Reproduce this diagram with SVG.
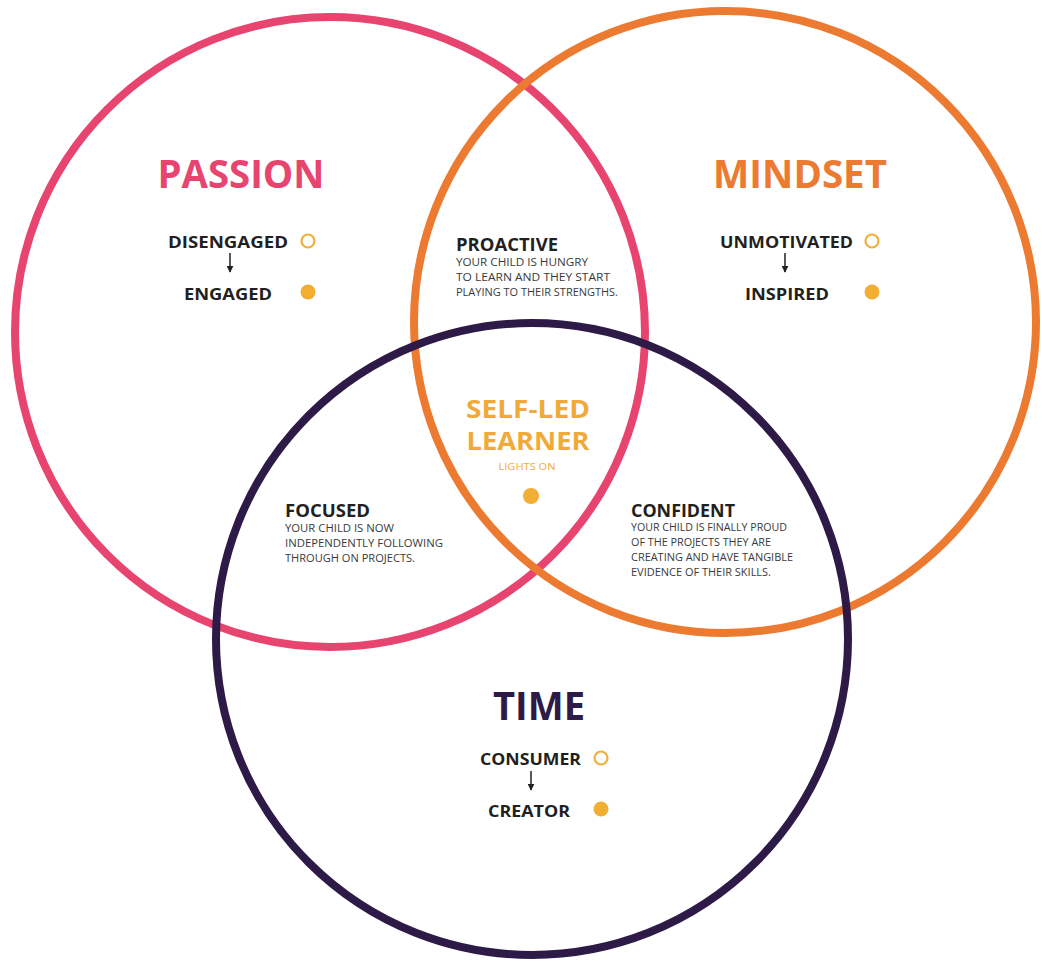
<svg xmlns="http://www.w3.org/2000/svg" width="1042" height="961" viewBox="0 0 1042 961">
<style>
.ring{fill:none;stroke-width:8}
.h{font-family:"Open Sans","DejaVu Sans",sans-serif;font-weight:700}
.lbl{font-family:"Open Sans","DejaVu Sans",sans-serif;font-weight:700;font-size:16px;fill:#231f20}
.sub{font-family:"Open Sans","DejaVu Sans",sans-serif;font-weight:700;font-size:17px;fill:#231f20}
.body{font-family:"Open Sans","DejaVu Sans",sans-serif;font-size:10px;fill:#3a3a3a}
.ho{fill:none;stroke:#F0B03C;stroke-width:2.2}
.fd{fill:#F2AE33}
.arr{stroke:#231f20;stroke-width:1.5;fill:none}
</style>
<defs>
<marker id="ah" viewBox="0 0 10 10" refX="9" refY="5" markerWidth="7" markerHeight="7" orient="auto" markerUnits="userSpaceOnUse">
<path d="M0,0 L10,5 L0,10 Z" fill="#231f20"/>
</marker>
</defs>
<rect width="1042" height="961" fill="#ffffff"/>
<g id="circles">
<circle id="passion-circle" class="ring" cx="330" cy="332" r="315" stroke="#E7446F"/>
<circle id="mindset-circle" class="ring" cx="725" cy="322" r="311" stroke="#EC7A31"/>
<circle id="time-circle" class="ring" cx="532" cy="639" r="316" stroke="#2E1A47"/>
</g>
<g id="passion">
<text class="h" x="241" y="188" font-size="39" fill="#E7446F" text-anchor="middle" textLength="167" lengthAdjust="spacingAndGlyphs">PASSION</text>
<text class="lbl" x="168" y="248" textLength="120" lengthAdjust="spacingAndGlyphs">DISENGAGED</text>
<circle class="ho" cx="308" cy="241" r="6.5"/>
<text class="lbl" x="184" y="300" textLength="88" lengthAdjust="spacingAndGlyphs">ENGAGED</text>
<circle class="fd" cx="308" cy="292" r="7.5"/>
</g>
<g id="mindset">
<text class="h" x="800" y="188" font-size="39" fill="#EC7A31" text-anchor="middle" textLength="174" lengthAdjust="spacingAndGlyphs">MINDSET</text>
<text class="lbl" x="720" y="248" textLength="133" lengthAdjust="spacingAndGlyphs">UNMOTIVATED</text>
<circle class="ho" cx="872" cy="241" r="6.5"/>
<text class="lbl" x="745" y="300" textLength="84" lengthAdjust="spacingAndGlyphs">INSPIRED</text>
<circle class="fd" cx="872" cy="292" r="7.5"/>
</g>
<g id="proactive">
<text class="sub" x="456" y="251" textLength="102" lengthAdjust="spacingAndGlyphs">PROACTIVE</text>
<text class="body" x="456" y="266" textLength="132" lengthAdjust="spacingAndGlyphs">YOUR CHILD IS HUNGRY</text>
<text class="body" x="456" y="281" textLength="154" lengthAdjust="spacingAndGlyphs">TO LEARN AND THEY START</text>
<text class="body" x="456" y="296" textLength="162" lengthAdjust="spacingAndGlyphs">PLAYING TO THEIR STRENGTHS.</text>
</g>
<g id="self-led-learner">
<text class="h" x="528" y="418" font-size="25" fill="#F0AA3A" text-anchor="middle" textLength="124" lengthAdjust="spacingAndGlyphs">SELF-LED</text>
<text class="h" x="528" y="450" font-size="25" fill="#F0AA3A" text-anchor="middle" textLength="123" lengthAdjust="spacingAndGlyphs">LEARNER</text>
<text class="body" x="527" y="470" text-anchor="middle" textLength="57" lengthAdjust="spacingAndGlyphs" style="fill:#F0AA3A;font-size:9px">LIGHTS ON</text>
<circle class="fd" cx="531" cy="496" r="8"/>
</g>
<g id="focused">
<text class="sub" x="285" y="517" textLength="85" lengthAdjust="spacingAndGlyphs">FOCUSED</text>
<text class="body" x="285" y="532" textLength="109" lengthAdjust="spacingAndGlyphs">YOUR CHILD IS NOW</text>
<text class="body" x="285" y="547" textLength="158" lengthAdjust="spacingAndGlyphs">INDEPENDENTLY  FOLLOWING</text>
<text class="body" x="285" y="562" textLength="130" lengthAdjust="spacingAndGlyphs">THROUGH ON PROJECTS.</text>
</g>
<g id="confident">
<text class="sub" x="631" y="517" textLength="104" lengthAdjust="spacingAndGlyphs">CONFIDENT</text>
<text class="body" x="631" y="531" textLength="156" lengthAdjust="spacingAndGlyphs">YOUR CHILD IS FINALLY PROUD</text>
<text class="body" x="631" y="546" textLength="140" lengthAdjust="spacingAndGlyphs">OF THE PROJECTS THEY ARE</text>
<text class="body" x="631" y="561" textLength="162" lengthAdjust="spacingAndGlyphs">CREATING AND HAVE TANGIBLE</text>
<text class="body" x="631" y="576" textLength="140" lengthAdjust="spacingAndGlyphs">EVIDENCE OF THEIR SKILLS.</text>
</g>
<g id="time">
<text class="h" x="539" y="720" font-size="39" fill="#2E1A47" text-anchor="middle" textLength="92" lengthAdjust="spacingAndGlyphs">TIME</text>
<text class="lbl" x="480" y="765" textLength="101" lengthAdjust="spacingAndGlyphs">CONSUMER</text>
<circle class="ho" cx="601" cy="758" r="6.5"/>
<text class="lbl" x="488" y="817" textLength="82" lengthAdjust="spacingAndGlyphs">CREATOR</text>
<circle class="fd" cx="601" cy="809" r="7.5"/>
</g>
<g id="connectors">
<line class="arr" x1="230" y1="253" x2="230" y2="272" marker-end="url(#ah)"/>
<line class="arr" x1="785" y1="253" x2="785" y2="272" marker-end="url(#ah)"/>
<line class="arr" x1="531" y1="771" x2="531" y2="790" marker-end="url(#ah)"/>
</g>
</svg>
